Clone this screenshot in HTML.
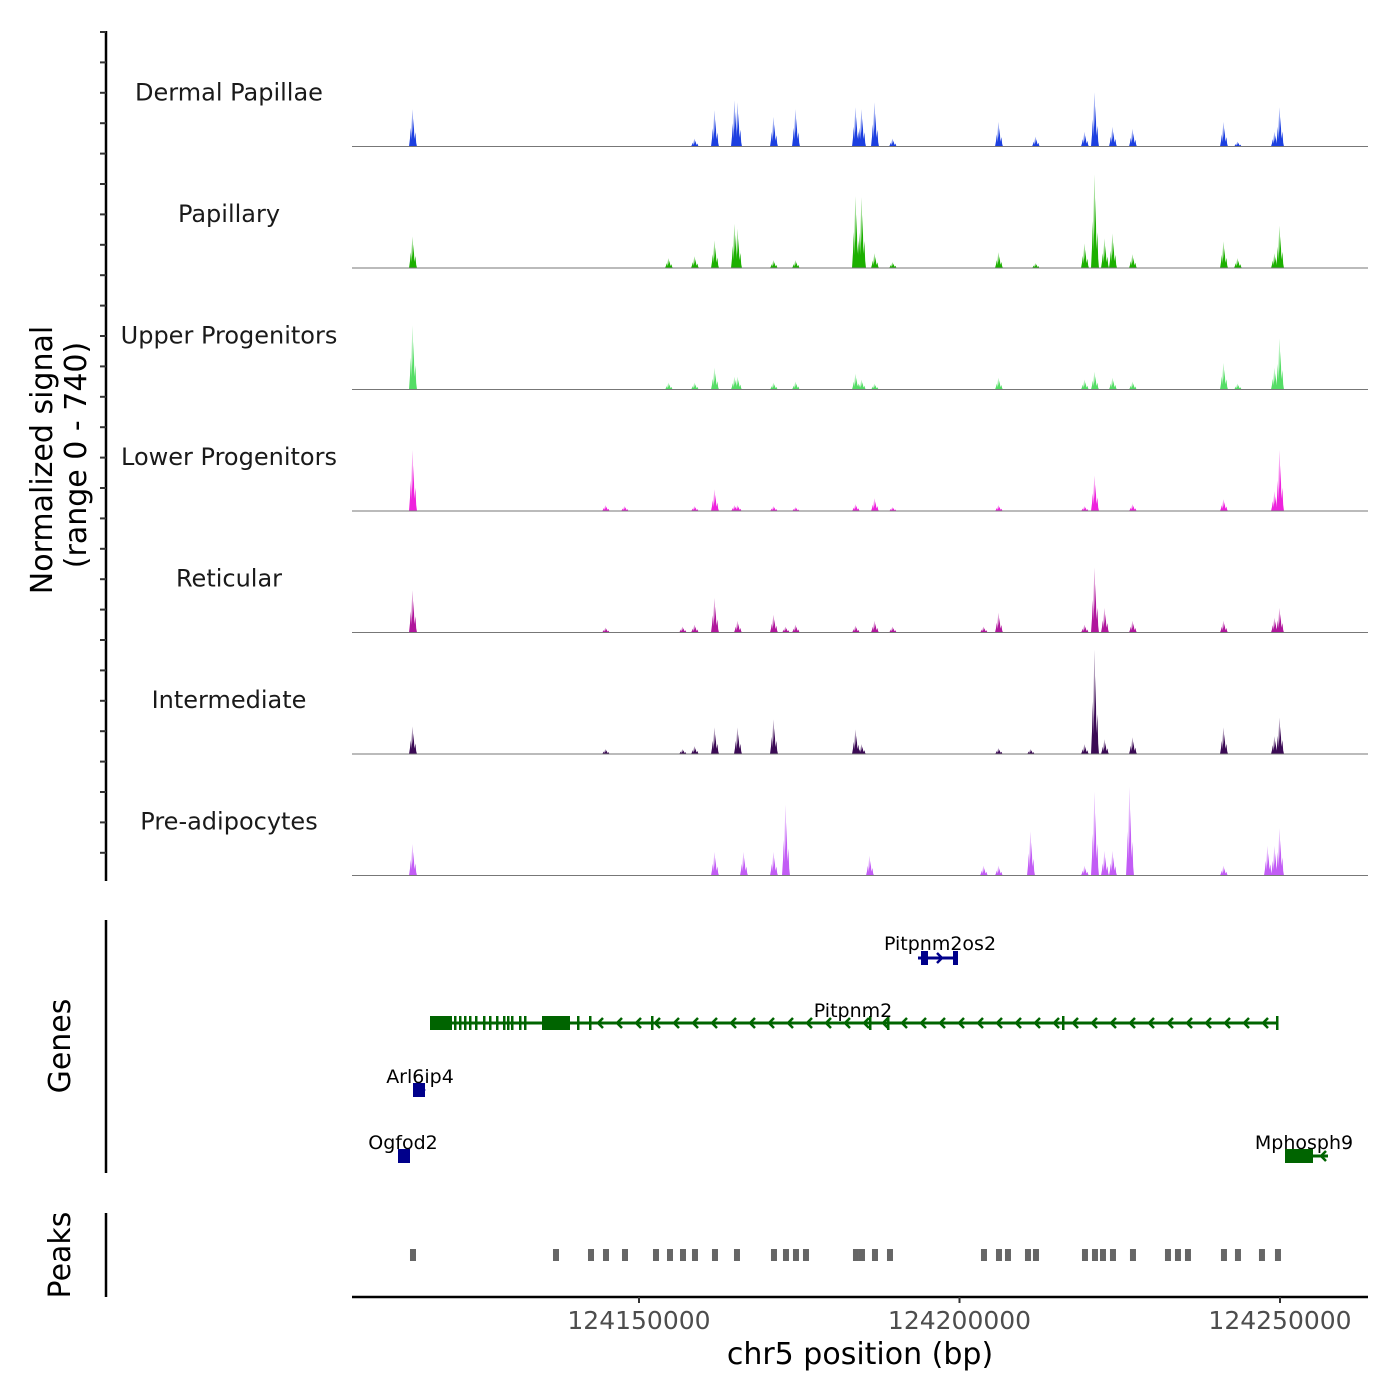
<!DOCTYPE html>
<html><head><meta charset="utf-8"><style>
body{margin:0;background:#fff}
svg{display:block;font-family:"DejaVu Sans","Liberation Sans",sans-serif}
</style></head><body>
<svg id="chart" width="1400" height="1400" viewBox="0 0 1400 1400" xmlns="http://www.w3.org/2000/svg">
<rect width="1400" height="1400" fill="#fff"/>
<g id="tracks"></g>
<g id="leftaxis"></g>
<text transform="translate(52,460) rotate(-90)" text-anchor="middle" font-size="30" fill="#000">Normalized signal</text>
<text transform="translate(86,455) rotate(-90)" text-anchor="middle" font-size="30" fill="#000">(range 0 - 740)</text>
<line x1="106" y1="920" x2="106" y2="1173" stroke="#000" stroke-width="2.5"/>
<text transform="translate(70,1046) rotate(-90)" text-anchor="middle" font-size="30">Genes</text>
<line x1="106" y1="1213" x2="106" y2="1297" stroke="#000" stroke-width="2.5"/>
<text transform="translate(70,1255) rotate(-90)" text-anchor="middle" font-size="30">Peaks</text>
<g id="genes"></g>
<g id="peaks"></g>
<g id="xaxis"></g>
<text x="860" y="1364" text-anchor="middle" font-size="30">chr5 position (bp)</text>
</svg>
<script>
const trackNames = ["Dermal Papillae","Papillary","Upper Progenitors","Lower Progenitors","Reticular","Intermediate","Pre-adipocytes"];
const trackColors = ["#1c3fe0","#1cb000","#55dd66","#ee22dd","#b0169c","#3b0a55","#c25cf5"];
const peakPositions = [124114743,124144851,124147815,124154679,124156863,124158735,124161855,124164975,124165443,124166379,124171059,124172931,124174491,124183851,124184787,124186035,124186815,124189623,124203819,124206159,124211151,124211931,124219575,124221135,124222695,124223943,124226595,124227063,124241259,124243443,124248123,124249215,124249995];
const dermalValues = [228,0,0,0,0,48,222,282,270,0,180,0,228,240,228,0,270,48,0,150,0,60,90,330,0,120,0,108,150,30,0,90,240];
const papillaryValues = [192,0,0,60,0,72,168,270,240,0,48,0,48,438,432,0,90,36,0,96,0,30,150,570,180,210,0,84,162,60,0,90,258];
const upperValues = [390,0,0,42,0,42,132,78,78,0,42,0,48,96,60,0,36,0,0,72,0,0,60,108,0,72,0,48,162,36,0,132,312];
const lowerValues = [372,36,30,0,0,30,132,36,36,0,30,0,24,42,0,0,78,24,0,36,0,0,30,216,0,0,0,42,72,0,0,120,372];
const reticularValues = [258,30,0,0,36,48,210,0,72,0,108,36,48,42,0,0,72,36,36,120,0,0,48,396,150,0,0,72,72,0,0,90,150];
const intermediateValues = [168,30,0,0,30,48,162,0,162,0,210,0,0,150,60,0,0,0,0,36,30,0,60,636,90,0,0,102,162,0,0,108,222];
const preadipValues = [192,0,0,0,0,0,144,0,0,144,144,432,0,0,0,120,0,0,60,60,270,0,60,510,150,150,540,0,60,0,180,180,288];
const allValues = [dermalValues,papillaryValues,upperValues,lowerValues,reticularValues,intermediateValues,preadipValues];
const xTicks = [124150000,124200000,124250000];
const peakRegions = [124114743,124137051,124142511,124144851,124147815,124152651,124154835,124156863,124158735,124161855,124165287,124171059,124172931,124174491,124176051,124183851,124184787,124186815,124189155,124203819,124206159,124207563,124210683,124211931,124219575,124221135,124222383,124223943,124227063,124232523,124234083,124235643,124241259,124243443,124247187,124249683];
const yMax = 740;

const NS="http://www.w3.org/2000/svg";
function mk(tag,attrs,parent){const e=document.createElementNS(NS,tag);for(const k in attrs)e.setAttribute(k,attrs[k]);parent.appendChild(e);return e;}
const X0=352,X1=1368,BP0=124105227,BP1=124263728;
function xs(bp){return X0+(bp-BP0)/(BP1-BP0)*(X1-X0);}
const trackH=121.5, firstBase=146.5;
function ys(v,base){return base-v/yMax*trackH;}
const shape=[[-4,0],[-3,0.22],[-2.2,0.5],[-1.6,0.18],[-0.8,1],[-0.2,0.35],[0.6,0.75],[1.4,0.2],[2.4,0.38],[3.2,0.1],[4,0]];

const tracks=document.getElementById('tracks');
for(let t=0;t<trackNames.length;t++){
  const base=firstBase+t*trackH;
  const g=mk('g',{},tracks);
  
  
  const lab=mk('text',{x:229,y:base-46,'text-anchor':'middle','font-size':24,fill:'#1a1a1a'},g);
  lab.textContent=trackNames[t];
  
  
  const vals=allValues[t];
  for(let i=0;i<peakPositions.length;i++){
    if(!vals[i])continue;
    const cx=xs(peakPositions[i]);const h=base-ys(vals[i],base);
    const pts=shape.map(p=>(cx+p[0]).toFixed(1)+','+(base-p[1]*h).toFixed(1)).join(' ');
    const pk=mk('polygon',{points:pts,fill:trackColors[t]},g);
    
    
  }
  const bl=mk('line',{x1:X0,x2:X1,y1:base,y2:base,stroke:'#777','stroke-width':1},g);
  
  
}
const la=document.getElementById('leftaxis');
mk('line',{x1:106,y1:31,x2:106,y2:881,stroke:'#000','stroke-width':2.5},la);
for(let y=32;y<=880;y+=30.4){mk('line',{x1:100,x2:106,y1:y,y2:y,stroke:'#333','stroke-width':2},la);}

const G=document.getElementById('genes');
const blue="#00008b",green="#006400";
function glabel(x,y,txt){const t=mk('text',{x:x,y:y,'text-anchor':'middle','font-size':19,fill:'#000'},G);t.textContent=txt;}
function arrow(x,y,dir,col){mk('polyline',{points:`${x+5*dir},${y-5} ${x},${y} ${x+5*dir},${y+5}`,fill:'none',stroke:col,'stroke-width':2.5},G);}
mk('line',{x1:918,x2:958,y1:958,y2:958,stroke:blue,'stroke-width':3},G);
mk('rect',{x:921,y:951,width:7,height:14,fill:blue},G);mk('rect',{x:953,y:951,width:5,height:14,fill:blue},G);
arrow(942,958,-1,blue);
glabel(940,950,'Pitpnm2os2');
mk('line',{x1:430,x2:1277,y1:1023,y2:1023,stroke:green,'stroke-width':3},G);
mk('rect',{x:430,y:1016,width:22,height:14,fill:green},G);
mk('rect',{x:542,y:1016,width:28,height:14,fill:green},G);
[455,460,465,470,476,484,490,497,504,508,512,520,525,578,590,652,870,888,1063,1277].forEach(x=>mk('rect',{x:x-1,y:1016,width:2.5,height:14,fill:green},G));
for(let x=598;x<1270;x+=19)arrow(x,1023,1,green);
glabel(853,1017,'Pitpnm2');
mk('rect',{x:413,y:1083,width:12,height:14,fill:blue},G);arrow(424,1090,-1,blue);
glabel(420,1083,'Arl6ip4');
mk('rect',{x:398,y:1149,width:12,height:14,fill:blue},G);
glabel(403,1149,'Ogfod2');
mk('line',{x1:1285,x2:1328,y1:1156,y2:1156,stroke:green,'stroke-width':3},G);
mk('rect',{x:1285,y:1149,width:28,height:14,fill:green},G);arrow(1321,1156,1,green);
glabel(1304,1149,'Mphosph9');

const P=document.getElementById('peaks');
peakRegions.forEach(bp=>{const r=mk('rect',{x:xs(bp)-3,y:1249,width:6,height:12,fill:'#666'},P);

});

const XA=document.getElementById('xaxis');
mk('line',{x1:X0,x2:X1,y1:1297,y2:1297,stroke:'#000','stroke-width':2.5},XA);
xTicks.forEach(v=>{const x=xs(v);mk('line',{x1:x,x2:x,y1:1297,y2:1303,stroke:'#333','stroke-width':2},XA);
const t=mk('text',{x:x,y:1329,'text-anchor':'middle','font-size':25,fill:'#4d4d4d'},XA);t.textContent=v;

});
</script>
</body></html>
